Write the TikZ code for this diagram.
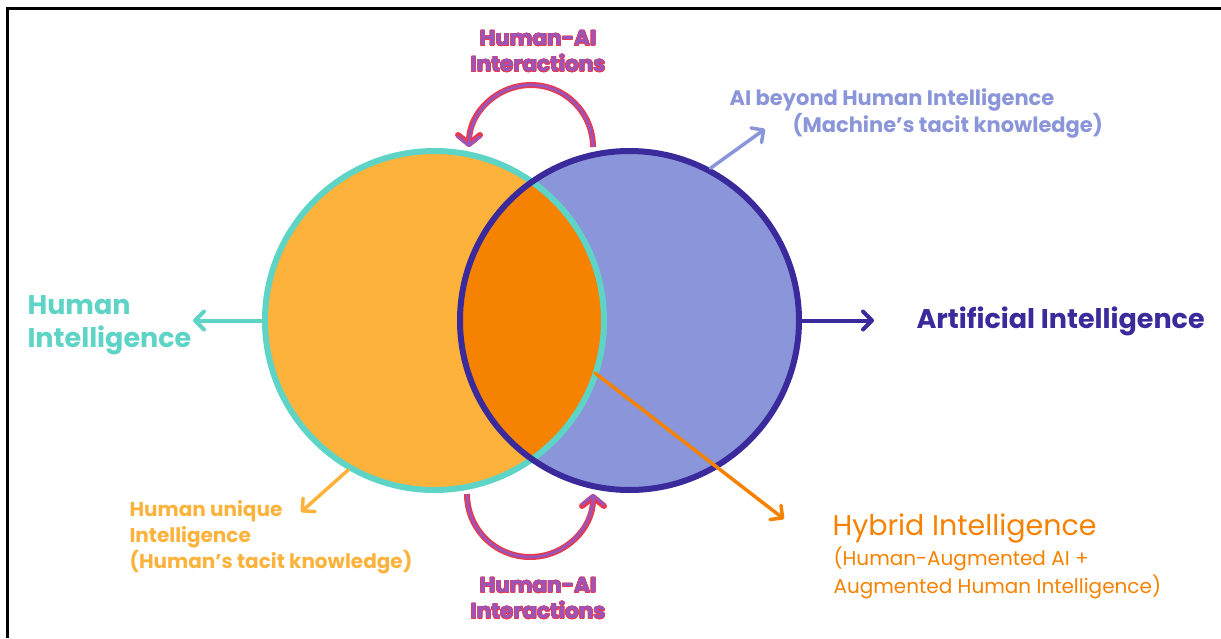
\documentclass[tikz,border=0pt]{standalone}
\usepackage{fontspec}
\setmainfont{Poppins}
\usepackage{xcolor}
\usepackage{tikz}
\usetikzlibrary{arrows.meta}
\usepackage{contour}
\contourlength{0.55pt}
\definecolor{HumanTeal}{RGB}{94,212,198}
\definecolor{HumanFill}{RGB}{253,178,60}
\definecolor{HybridFill}{RGB}{245,130,0}
\definecolor{AiFill}{RGB}{139,149,217}
\definecolor{AiIndigo}{RGB}{58,42,155}
\definecolor{ArcRed}{RGB}{232,58,78}
\definecolor{ArcPurple}{RGB}{155,84,186}
\tikzstyle{Disk}=[circle, minimum size=339pt, inner sep=0, outer sep=3pt]
\tikzstyle{Pointer}=[line width=3.5pt, line cap=round, -{Straight Barb[length=9pt,width=18pt,line cap=round,line join=round]}]
\tikzstyle{Exchange}=[draw=ArcRed, line width=6pt, -{Straight Barb[length=9pt,width=22pt,line cap=round,line join=round]}, postaction={draw=ArcPurple, line width=2.8pt}]
\tikzstyle{Link}=[align=center, text=ArcPurple, font=\fontsize{21.5}{26}\selectfont\bfseries]
\newcommand{\interlabel}{\contour{ArcRed}{Human-AI}\\\contour{ArcRed}{Interactions}}

\begin{document}
\begin{tikzpicture}[x=1pt, y=-1pt]
    \useasboundingbox (0,0) rectangle (1221,638);
    \fill[white] (0,0) rectangle (1221,638);
    \draw[line width=3pt] (1221,8) -- (7,8) -- (7,638);

    \path
    (434.5,320.5) node[Disk, fill=HumanFill] (human) {}
    (629.5,320.5) node[Disk, fill=AiFill] (ai) {};

    % overlap of the two circles
    \begin{scope}
        \clip (human.center) circle[radius=169.5pt];
        \fill[HybridFill] (ai.center) circle[radius=169.5pt];
    \end{scope}
    \draw[HumanTeal, line width=6pt] (human.center) circle[radius=169.5pt];
    \draw[AiIndigo, line width=6pt] (ai.center) circle[radius=169.5pt];

    \path
    (24,325) node[anchor=west, align=left, text=HumanTeal, font=\fontsize{27}{33}\selectfont\bfseries] (hilabel) {Human\\Intelligence}
    (913,321) node[anchor=west, text=AiIndigo, font=\fontsize{27}{33}\selectfont\bfseries] (ailabel) {Artificial Intelligence}
    (726,113) node[anchor=west, align=left, text=AiFill, font=\fontsize{21}{27}\selectfont\bfseries] (beyond) {AI beyond Human Intelligence\\\hspace*{63pt}(Machine’s tacit knowledge)}
    (126,537) node[anchor=west, align=left, text=HumanFill, font=\fontsize{20}{26}\selectfont\bfseries] (unique) {Human unique\\Intelligence\\(Human’s tacit knowledge)}
    (829,528) node[anchor=west, text=HybridFill, font=\fontsize{28.5}{30}\selectfont] (hybrid) {Hybrid Intelligence}
    (830,573) node[anchor=west, align=left, text=HybridFill, font=\fontsize{20}{28}\selectfont] (hybridsub) {(Human-Augmented AI +\\Augmented Human Intelligence)}
    (538,51.5) node[Link] (toplink) {\interlabel}
    (538,598.5) node[Link] (bottomlink) {\interlabel};

    \coordinate (hitip) at (193,320.5);
    \coordinate (aitip) at (874,320.5);
    \coordinate (beyondtip) at (765,129);
    \coordinate (uniquetip) at (301,512);
    \coordinate (lens) at (595,373);
    \coordinate (hybridtip) at (784,519);
    \coordinate (topstart) at (593,147);
    \coordinate (bottomstart) at (467,494);

    \draw[Pointer, HumanTeal, line width=4pt] (human.west) -- (hitip);
    \draw[Pointer, AiIndigo, line width=4pt] (ai.east) -- (aitip);
    \draw[Pointer, AiFill] (ai.62) -- (beyondtip);
    \draw[Pointer, HumanFill] (human.240) -- (uniquetip);
    \draw[Pointer, HybridFill] (lens) -- (hybridtip);

    \draw[Exchange] (topstart) arc[start angle=0, end angle=180, radius=62pt];
    \draw[Exchange] (bottomstart) arc[start angle=180, end angle=360, radius=63pt];
\end{tikzpicture}
\end{document}
